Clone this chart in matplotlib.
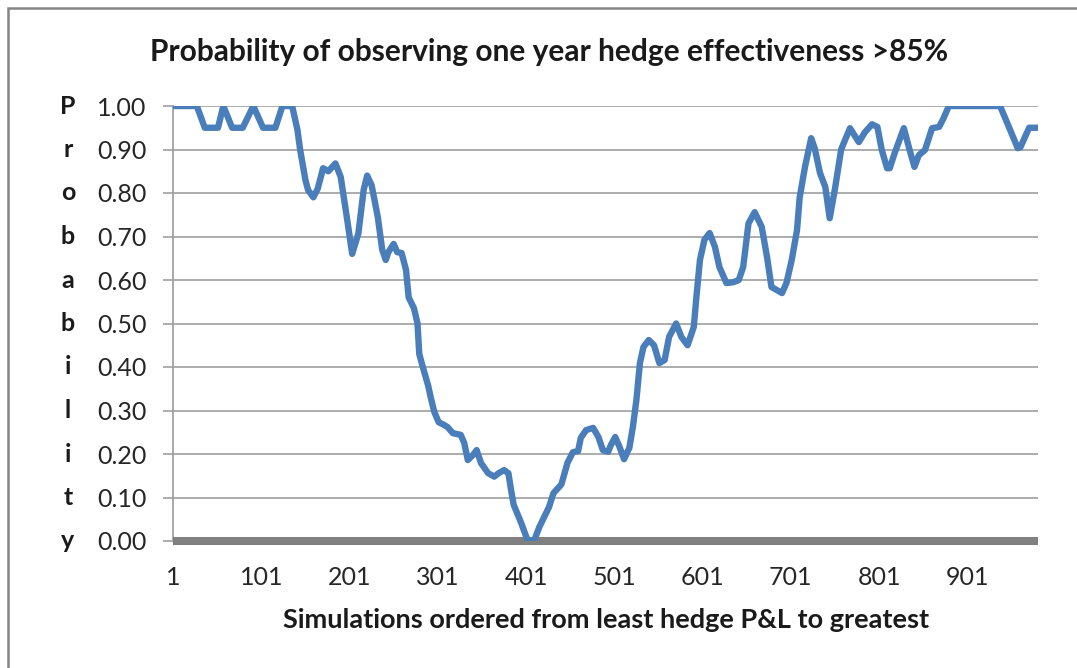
import matplotlib
matplotlib.use("Agg")
import matplotlib.pyplot as plt
from matplotlib.patches import Rectangle
from matplotlib.transforms import blended_transform_factory

# simulation index (ordered by hedge P&L) and rolling probability
sim = [1, 28, 37, 52, 58, 68, 80, 92, 103, 117, 125, 136, 142, 145, 151, 154,
       160, 165, 171, 177, 185, 191, 199, 204, 211, 217, 221, 226, 233, 238,
       242, 245, 251, 255, 260, 265, 268, 274, 278, 280, 284, 290, 293, 297,
       302, 308, 312, 318, 327, 331, 335, 341, 345, 350, 358, 365, 370, 376,
       381, 384, 387, 395, 403, 410, 416, 421, 427, 432, 441, 448, 454, 460,
       463, 469, 477, 483, 488, 494, 497, 502, 507, 512, 518, 522, 526, 530,
       534, 540, 546, 552, 558, 563, 571, 577, 584, 591, 594, 598, 603, 609,
       615, 620, 628, 636, 642, 647, 653, 660, 668, 674, 679, 685, 691, 696,
       702, 708, 711, 717, 724, 728, 734, 740, 745, 751, 758, 761, 768, 778,
       785, 793, 799, 804, 810, 813, 819, 829, 835, 841, 846, 853, 861, 869,
       874, 880, 938, 948, 958, 961, 971, 981]
prob = [1.00, 1.00, 0.95, 0.95, 1.00, 0.95, 0.95, 1.00, 0.95, 0.95, 1.00, 1.00,
        0.945, 0.90, 0.83, 0.807, 0.79, 0.81, 0.857, 0.85, 0.868, 0.837, 0.73,
        0.66, 0.707, 0.807, 0.84, 0.818, 0.745, 0.67, 0.646, 0.664, 0.683,
        0.664, 0.662, 0.623, 0.56, 0.535, 0.50, 0.43, 0.40, 0.358, 0.33, 0.297,
        0.273, 0.267, 0.262, 0.248, 0.244, 0.225, 0.186, 0.198, 0.209, 0.179,
        0.156, 0.148, 0.156, 0.163, 0.156, 0.117, 0.083, 0.044, 0.0, 0.0,
        0.032, 0.053, 0.078, 0.11, 0.13, 0.18, 0.204, 0.207, 0.237, 0.255,
        0.26, 0.239, 0.209, 0.205, 0.22, 0.239, 0.216, 0.188, 0.214, 0.262,
        0.324, 0.409, 0.446, 0.462, 0.45, 0.409, 0.416, 0.469, 0.50, 0.469,
        0.45, 0.492, 0.561, 0.646, 0.692, 0.708, 0.676, 0.63, 0.593, 0.595,
        0.60, 0.63, 0.73, 0.756, 0.722, 0.653, 0.584, 0.577, 0.57, 0.593,
        0.646, 0.715, 0.79, 0.86, 0.926, 0.903, 0.846, 0.814, 0.742, 0.81,
        0.90, 0.915, 0.949, 0.917, 0.94, 0.958, 0.952, 0.899, 0.857, 0.857,
        0.894, 0.949, 0.903, 0.86, 0.887, 0.899, 0.949, 0.952, 0.972, 1.0,
        1.0, 0.952, 0.903, 0.905, 0.95, 0.95]

xticks = [1, 101, 201, 301, 401, 501, 601, 701, 801, 901]
yticks = [0.0, 0.1, 0.2, 0.3, 0.4, 0.5, 0.6, 0.7, 0.8, 0.9, 1.0]
ylabel_letters = list("Probability")

title = "Probability of observing one year hedge effectiveness >85%"
xlabel = "Simulations ordered from least hedge P&L to greatest"

plt.rcParams['font.family'] = ['Lato', 'DejaVu Sans']

W, H = 1077, 668
fig = plt.figure(figsize=(W / 100, H / 100), dpi=100)
fig.patch.set_facecolor("white")

# outer chart border (only top and left edges are inside the picture)
fig.patches.append(Rectangle((8 / W, -0.05), 1.2, (H - 8) / H + 0.05,
                             transform=fig.transFigure, fill=False,
                             edgecolor="#858585", linewidth=1.8))

ax = fig.add_axes([173 / W, (H - 541) / H, 865 / W, 435 / H])
ax.plot(sim, prob, color="#4a7ebb", linewidth=4.6, solid_joinstyle="round",
        solid_capstyle="round", zorder=3)

ax.set_xlim(1, 981)
ax.set_ylim(0, 1.0)
ax.set_xticks(xticks)
ax.set_xticklabels([str(t) for t in xticks], fontsize=18, color="#262626")
ax.set_yticks(yticks)
ax.set_yticklabels(["%.2f" % t for t in yticks], fontsize=18, color="#262626")
ax.tick_params(axis="y", length=7, width=1.2, color="#a0a0a0", pad=12)
ax.tick_params(axis="x", length=0, pad=18)

ax.grid(axis="y", color="#a6a6a6", linewidth=1.3)
ax.set_axisbelow(True)
for s in ["top", "right"]:
    ax.spines[s].set_visible(False)
ax.spines["left"].set_color("#a0a0a0")
ax.spines["left"].set_linewidth(1.3)
ax.spines["bottom"].set_color("#808080")
ax.spines["bottom"].set_linewidth(5.8)
ax.spines["bottom"].set_capstyle("butt")

# stacked vertical axis title, one letter per gridline
tr = blended_transform_factory(fig.transFigure, ax.transData)
for letter, yv in zip(ylabel_letters, yticks[::-1]):
    ax.text(68 / W, yv, letter, transform=tr, ha="center", va="center",
            fontsize=18, fontweight="bold", color="#1a1a1a")

fig.text(549 / W, 1 - 52 / H, title, ha="center", va="center",
         fontsize=21.5, fontweight="bold", color="#1a1a1a")
fig.text(606 / W, 1 - 620 / H, xlabel, ha="center", va="center",
         fontsize=19.5, fontweight="bold", color="#1a1a1a")

fig.savefig("out.png", dpi=100)
